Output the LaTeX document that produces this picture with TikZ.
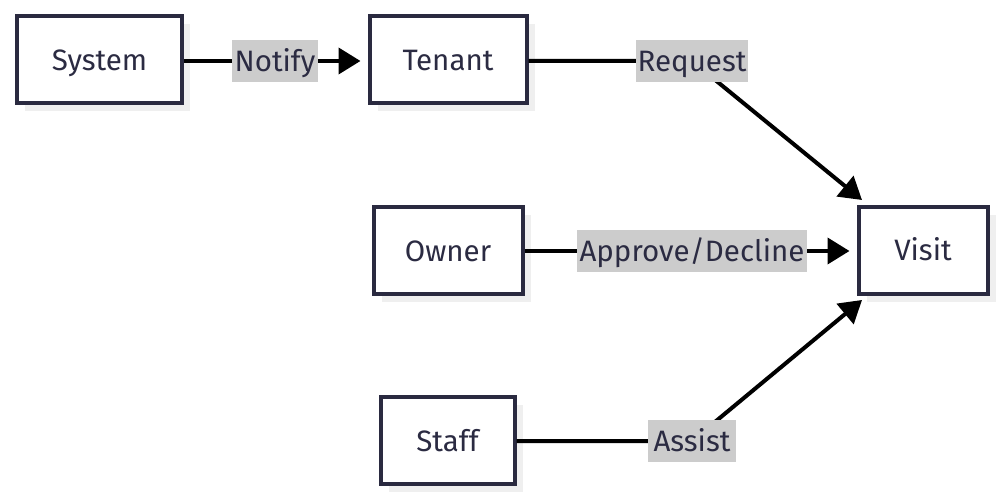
\documentclass[tikz,border=0pt]{standalone}
\usepackage{fontspec}
\setmainfont{Fira Sans}
\usetikzlibrary{arrows.meta,shadows}
\definecolor{bord}{HTML}{2A2A40}
\definecolor{txt}{HTML}{2B2B42}
\definecolor{lblbg}{HTML}{CCCCCC}
\definecolor{shad}{HTML}{EFEFEF}
\begin{document}
\begin{tikzpicture}[x=1pt,y=-1pt,
  box/.style={draw=bord, line width=4pt, fill=white, text=txt, inner sep=0pt,
    minimum height=87pt, text height=21pt, text depth=0pt,
    font=\fontsize{29.5}{34}\selectfont,
    drop shadow={shadow xshift=8pt, shadow yshift=-8pt, fill=shad, opacity=1}},
  lbl/.style={fill=lblbg, text=txt, inner sep=0pt, minimum height=42pt,
    text height=21pt, text depth=0pt,
    font=\fontsize{29.5}{34}\selectfont},
  edge/.style={line width=4pt, draw=black},
  arr/.style={-{Triangle[length=22pt,width=26pt]}}]
\useasboundingbox (0,0) rectangle (1004,502);
\node[box, minimum width=165pt] (sys) at (99.5,60) {System};
\node[box, minimum width=157pt] (ten) at (448,60) {Tenant};
\node[box, minimum width=149pt] (own) at (448,251) {Owner};
\node[box, minimum width=129pt] (vis) at (923,250.5) {Visit};
\node[box, minimum width=134pt] (stf) at (447.5,440.5) {Staff};
\coordinate (cn) at (275,61);
\coordinate (cr) at (692,61);
\coordinate (ca) at (692,251);
\coordinate (cs) at (692,441);
\coordinate (tipr) at (862,200);
\coordinate (tips) at (862,300);
\draw[edge, arr, shorten >=7pt] (sys.east |- cn) -- (ten.west |- cn);
\draw[edge, arr] (ten.east |- cr) -- (cr) -- (tipr);
\draw[edge, arr, shorten >=7pt] (own.east |- ca) -- (vis.west |- ca);
\draw[edge, arr] (stf.east |- cs) -- (cs) -- (tips);
\node[lbl, minimum width=86pt] (ln) at (cn) {Notify};
\node[lbl, minimum width=112pt] (lr) at (cr) {Request};
\node[lbl, minimum width=230pt] (la) at (ca) {Approve/Decline};
\node[lbl, minimum width=88pt] (ls) at (cs) {Assist};
\end{tikzpicture}
\end{document}
